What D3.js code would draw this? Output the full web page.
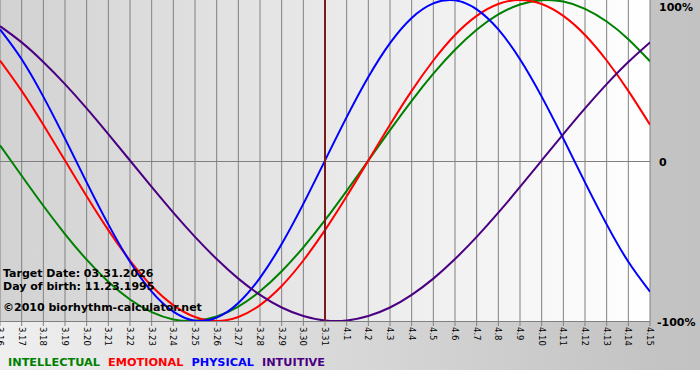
<!DOCTYPE html>
<html>
<head>
<meta charset="utf-8">
<script src="https://cdn.jsdelivr.net/npm/d3@7"></script>
<style>
  body { margin: 0; background: #fff; }
  text { font-family: "DejaVu Sans", Verdana, sans-serif; }
</style>
</head>
<body>
<div id="chart"></div>
<script>
var days = ['3.16','3.17','3.18','3.19','3.20','3.21','3.22','3.23','3.24','3.25',
            '3.26','3.27','3.28','3.29','3.30','3.31','4.1','4.2','4.3','4.4',
            '4.5','4.6','4.7','4.8','4.9','4.10','4.11','4.12','4.13','4.14','4.15'];

// percent values, one per day
var intellectual = [9.5, -9.5, -28.2, -45.8, -61.8, -75.6, -86.6, -94.5, -99.0, -99.9,
                    -97.2, -91.0, -81.5, -69.0, -54.1, -37.2, -18.9, 0, 18.9, 37.2,
                    54.1, 69.0, 81.5, 91.0, 97.2, 99.9, 99.0, 94.5, 86.6, 75.6, 61.8];
var emotional = [62.3, 43.4, 22.3, 0, -22.3, -43.4, -62.3, -78.2, -90.1, -97.5,
                 -100, -97.5, -90.1, -78.2, -62.3, -43.4, -22.3, 0, 22.3, 43.4,
                 62.3, 78.2, 90.1, 97.5, 100, 97.5, 90.1, 78.2, 62.3, 43.4, 22.3];
var physical = [81.7, 63.1, 39.8, 13.6, -13.6, -39.8, -63.1, -81.7, -94.2, -99.8,
                -97.9, -88.8, -73.1, -52.0, -27.0, 0, 27.0, 52.0, 73.1, 88.8,
                97.9, 99.8, 94.2, 81.7, 63.1, 39.8, 13.6, -13.6, -39.8, -63.1, -81.7];
var intuitive = [83.7, 73.6, 61.4, 47.6, 32.5, 16.5, 0, -16.5, -32.5, -47.6,
                 -61.4, -73.6, -83.7, -91.6, -96.9, -99.7, -99.7, -96.9, -91.6, -83.7,
                 -73.6, -61.4, -47.6, -32.5, -16.5, 0, 16.5, 32.5, 47.6, 61.4, 73.6];

var series = [
  { name: 'INTELLECTUAL', color: '#008000', values: intellectual },
  { name: 'EMOTIONAL', color: '#ff0000', values: emotional },
  { name: 'PHYSICAL', color: '#0000ff', values: physical },
  { name: 'INTUITIVE', color: '#4b0082', values: intuitive }
];
var yTicks = [100, 0, -100];
var targetDay = '3.31';
var infoLines = ['Target Date: 03.31.2026', 'Day of birth: 11.23.1995', '\u00a92010 biorhythm-calculator.net'];

var width = 700,
    height = 380,
    plotW = 650,
    plotH = 321;

var xScale = d3.scalePoint()
    .domain(days)
    .range([0, plotW]);

var yScale = d3.scaleLinear()
    .domain([-100, 100])
    .range([plotH, 0]);

var svg = d3.select('#chart').append('svg')
    .attr('width', width)
    .attr('height', height);

var defs = svg.append('defs');

var bgGrad = defs.append('linearGradient').attr('id', 'bgGrad');
bgGrad.append('stop').attr('offset', '0%').attr('stop-color', '#efefef');
bgGrad.append('stop').attr('offset', '92%').attr('stop-color', '#c4c4c4');
bgGrad.append('stop').attr('offset', '100%').attr('stop-color', '#c2c2c2');

var plotGrad = defs.append('linearGradient').attr('id', 'plotGrad');
plotGrad.append('stop').attr('offset', '0%').attr('stop-color', '#d2d2d2');
plotGrad.append('stop').attr('offset', '100%').attr('stop-color', '#ffffff');

defs.append('clipPath').attr('id', 'plotClip')
  .append('rect')
    .attr('width', plotW)
    .attr('height', plotH);

svg.append('rect')
    .attr('width', width)
    .attr('height', 370)
    .style('fill', 'url(#bgGrad)');

svg.append('rect')
    .attr('width', plotW)
    .attr('height', plotH)
    .style('fill', 'url(#plotGrad)');

// vertical day grid
svg.append('g')
  .selectAll('line').data(days)
  .enter().append('line')
    .attr('x1', function(d) { return xScale(d); })
    .attr('x2', function(d) { return xScale(d); })
    .attr('y1', 0)
    .attr('y2', plotH + 5)
    .style('stroke', '#808080')
    .style('stroke-width', 1);

// zero line + bottom line
svg.append('g')
  .selectAll('line').data([0, -100])
  .enter().append('line')
    .attr('x1', 0)
    .attr('x2', plotW)
    .attr('y1', function(d) { return Math.round(yScale(d)) + 0.5; })
    .attr('y2', function(d) { return Math.round(yScale(d)) + 0.5; })
    .style('stroke', '#808080')
    .style('stroke-width', 1);

// x labels, rotated
svg.append('g')
  .selectAll('text').data(days)
  .enter().append('text')
    .attr('transform', function(d) { return 'translate(' + xScale(d) + ',' + (plotH + 6) + ') rotate(90)'; })
    .attr('dy', '0.35em')
    .style('font-size', '8.5px')
    .style('fill', '#000')
    .text(function(d) { return d; });

// y labels on the right
svg.append('g')
  .selectAll('text').data(yTicks)
  .enter().append('text')
    .attr('x', function(d) { return d < 0 ? 657 : 659; })
    .attr('y', function(d) { return Math.max(11, yScale(d) + 5); })
    .style('font-size', '11px')
    .style('font-weight', 'bold')
    .style('fill', '#000')
    .text(function(d) { return d === 0 ? '0' : d + '%'; });

var line = d3.line()
    .x(function(d, i) { return xScale(days[i]); })
    .y(function(d) { return yScale(d); })
    .curve(d3.curveNatural);

svg.append('g')
    .attr('clip-path', 'url(#plotClip)')
  .selectAll('path').data(series)
  .enter().append('path')
    .attr('d', function(d) { return line(d.values); })
    .style('fill', 'none')
    .style('stroke', function(d) { return d.color; })
    .style('stroke-width', 2);

// target date marker
svg.append('line')
    .attr('x1', xScale(targetDay))
    .attr('x2', xScale(targetDay))
    .attr('y1', 0)
    .attr('y2', plotH)
    .style('stroke', '#7a1a1a')
    .style('stroke-width', 2);

// info text bottom left
svg.append('g')
  .selectAll('text').data(infoLines)
  .enter().append('text')
    .attr('x', 3)
    .attr('y', function(d, i) { return [277, 290, 311][i]; })
    .style('font-size', '11px')
    .style('font-weight', 'bold')
    .style('fill', '#000')
    .text(function(d) { return d; });

// legend
var lx = 8;
series.forEach(function(s) {
  var t = svg.append('text')
      .attr('x', lx)
      .attr('y', 366)
      .style('font-size', '11.3px')
      .style('font-weight', 'bold')
      .style('fill', s.color)
      .text(s.name);
  lx += t.node().getComputedTextLength() + 8;
});
</script>
</body>
</html>
